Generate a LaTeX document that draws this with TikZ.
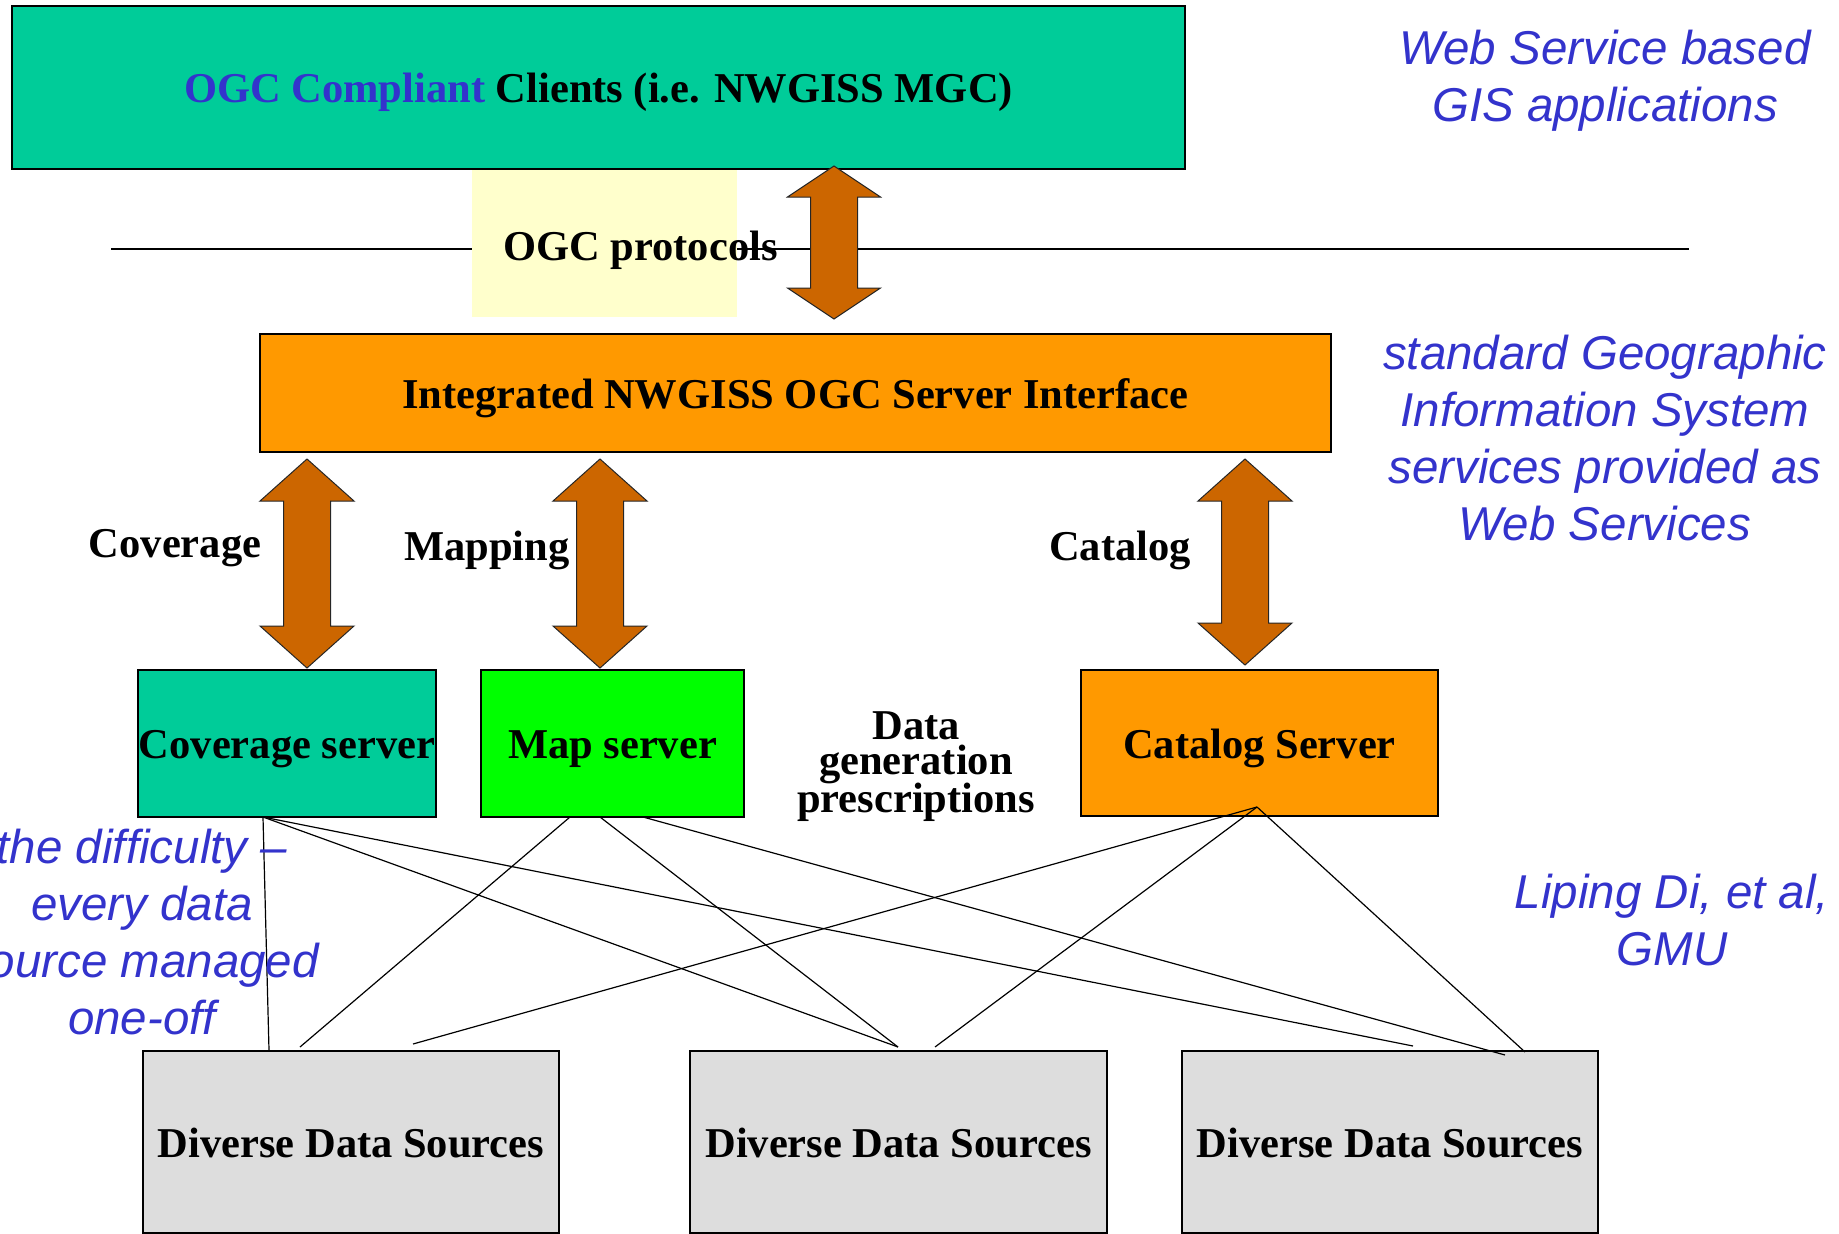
\documentclass[tikz,border=0pt]{standalone}
\usepackage{fontspec}
\setmainfont{Liberation Serif}
\newfontfamily\bluefont{Liberation Sans}
\usetikzlibrary{calc}
\definecolor{tealbox}{HTML}{00CC99}
\definecolor{orangebox}{HTML}{FF9900}
\definecolor{greenbox}{HTML}{00FF00}
\definecolor{greybox}{HTML}{DDDDDD}
\definecolor{yellowbg}{HTML}{FFFFCC}
\definecolor{arrowbrown}{HTML}{CC6600}
\definecolor{ogcblue}{HTML}{3333CC}
\tikzset{
  fatarrow/.style n args={3}{to path={let \p1=(\tikztostart), \p2=(\tikztotarget) in
    (\x1,\y1) -- (\x1+#1,\y1-#3) -- (\x1+#2,\y1-#3) -- (\x1+#2,\y2+#3) -- (\x1+#1,\y2+#3)
    -- (\x1,\y2) -- (\x1-#1,\y2+#3) -- (\x1-#2,\y2+#3) -- (\x1-#2,\y1-#3) -- (\x1-#1,\y1-#3) -- cycle}},
}
\begin{document}
\begin{tikzpicture}[x=1pt,y=-1pt,
  box/.style={draw=black, line width=1.5pt, inner sep=0pt,
    font=\fontsize{42.5}{46}\selectfont\bfseries, text height=30pt, text depth=0pt},
  lbl/.style={inner sep=0pt, font=\fontsize{42.5}{46}\selectfont\bfseries},
  bluetxt/.style={inner sep=0pt, align=center, text=ogcblue,
    font=\bluefont\itshape\fontsize{47.5}{57}\selectfont},
  fat/.style={fill=arrowbrown, draw=black!85, line width=1pt},
  link/.style={draw=black, line width=1.2pt},
]
\useasboundingbox (0,0) rectangle (1839,1234);

% separator line and OGC protocols label
\draw[line width=1.5pt] (111,249) coordinate (sepL) -- (1689,249) coordinate (sepR);
\node[fill=yellowbg, minimum width=265pt, minimum height=147pt, inner sep=0pt] (protobg) at (604.5,243.5) {};
\node[lbl, anchor=base] (proto) at (640.5,260) {OGC protocols};

% boxes
\node[box, fill=tealbox, minimum width=1173pt, minimum height=163pt] (clients) at (598.5,87.5)
  {\textcolor{ogcblue}{OGC Compliant} Clients (i.e. NWGISS MGC)};
\node[box, fill=orangebox, minimum width=1071pt, minimum height=118pt] (iface) at (795.5,393)
  {Integrated NWGISS OGC Server Interface};
\node[box, fill=tealbox, minimum width=298pt, minimum height=147pt] (covsrv) at (287,743.5) {Coverage server\hspace{5pt}};
\node[box, fill=greenbox, minimum width=263pt, minimum height=147pt] (mapsrv) at (612.5,743.5) {Map server\hspace{12pt}};
\node[box, fill=orangebox, minimum width=357pt, minimum height=146pt] (catsrv) at (1259.5,743) {Catalog Server};
\node[box, fill=greybox, minimum width=416pt, minimum height=182pt] (ds1) at (351,1142) {Diverse Data Sources};
\node[box, fill=greybox, minimum width=417pt, minimum height=182pt] (ds2) at (898.5,1142) {Diverse Data Sources};
\node[box, fill=greybox, minimum width=416pt, minimum height=182pt] (ds3) at (1390,1142) {Diverse Data Sources};

% labels
\node[lbl, anchor=base] (lcov) at (175,557) {Coverage};
\node[lbl, anchor=base] (lmap) at (487,560) {Mapping};
\node[lbl, anchor=base] (lcat) at (1120,560) {Catalog};
\node[lbl, anchor=north, align=center, font=\fontsize{42.5}{36}\selectfont\bfseries] (datagen) at (916,711)
  {Data\\[-1pt]generation\\[-1pt]prescriptions};

% fat double arrows
\coordinate (aTop) at (834,166);   \coordinate (aBot) at (834,319);
\coordinate (cTop) at (307,459);   \coordinate (cBot) at (307,668);
\coordinate (mTop) at (600,459);   \coordinate (mBot) at (600,668);
\coordinate (kTop) at (1245,459);  \coordinate (kBot) at (1245,665);
\draw[fat, fatarrow={46.5pt}{23.5pt}{31pt}] (aTop) to (aBot);
\draw[fat, fatarrow={47pt}{23.5pt}{42pt}] (cTop) to (cBot);
\draw[fat, fatarrow={47pt}{23.5pt}{42pt}] (mTop) to (mBot);
\draw[fat, fatarrow={47pt}{23.5pt}{42pt}] (kTop) to (kBot);

% attachment points
\coordinate (covB) at (263,817);
\coordinate (mapB1) at (570,817);
\coordinate (mapB2) at (600,817);
\coordinate (mapB3) at (643,817);
\coordinate (catB) at (1257,807);
\coordinate (d1a) at (269,1050);
\coordinate (d1b) at (300,1047);
\coordinate (d1c) at (413,1044);
\coordinate (d2a) at (898,1047);
\coordinate (d2b) at (935,1047);
\coordinate (d3a) at (1413,1046);
\coordinate (d3b) at (1505,1055);
\coordinate (d3c) at (1525,1052);

\draw[link] (covB) -- (d1a);
\draw[link] (covB) -- (d2a);
\draw[link] (covB) -- (d3a);
\draw[link] (mapB1) -- (d1b);
\draw[link] (mapB2) -- (d2a);
\draw[link] (mapB3) -- (d3b);
\draw[link] (catB) -- (d1c);
\draw[link] (catB) -- (d2b);
\draw[link] (catB) -- (d3c);

% blue annotations
\node[bluetxt, anchor=north] (wsgis) at (1605,29.5) {Web Service based\\GIS applications};
\node[bluetxt, anchor=north] (stdgis) at (1605,334.5) {standard Geographic\\Information System\\services provided as\\Web Services};
\node[bluetxt, anchor=north] (diff) at (142,828.5) {the difficulty –\\every data\\source managed\\one-off};
\node[bluetxt, anchor=north] (liping) at (1672,873.5) {Liping Di, et al,\\GMU};
\end{tikzpicture}
\end{document}
